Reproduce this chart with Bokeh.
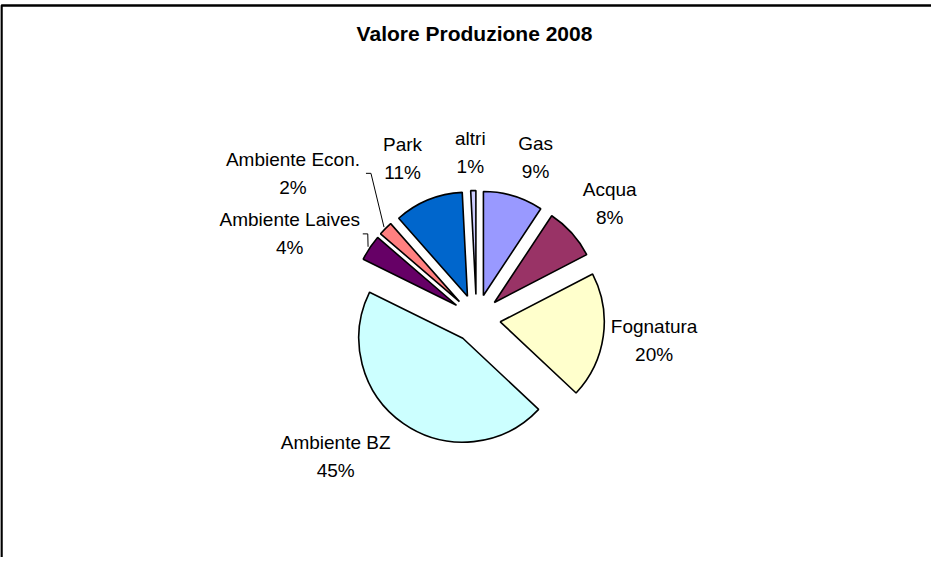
import math
from bokeh.plotting import figure
from bokeh.models import Range1d, ColumnDataSource
from bokeh.embed import file_html
from bokeh.resources import INLINE
from bokeh.core.properties import value

# ---- data ----
categories = ["Gas", "Acqua", "Fognatura", "Ambiente BZ", "Ambiente Laives",
              "Ambiente Econ.", "Park", "altri"]
values = [9.3, 8.1, 19.6, 45.3, 4.0, 2.2, 10.7, 0.8]
colors = ["#9999FF", "#993366", "#FFFFCC", "#CCFFFF", "#660066",
          "#FF8080", "#0066CC", "#CCCCFF"]
title_text = "Valore Produzione 2008"

# ---- layout parameters ----
W, H = 931, 557
CX, CY = 476, 239          # pie centre (data = screen px, y up)
R = 104                    # radius
EXPLODE = 24               # explosion distance
label_radius = [171.5, 176, 179, 197, 205, 234, 176, 166]
label_shift_deg = [-3.4, -1.1, 0.7, -10.9, 9.1, 6.3, 2.7, 0.7]
leader = [False, False, False, False, True, True, False, False]
LINE_GAP = 14
FONT = "Liberation Sans"

total = sum(values)
starts, ends, mids = [], [], []
a = 90.0
for v in values:
    span = v / total * 360.0
    starts.append(a)
    ends.append(a - span)
    mids.append(a - span / 2)
    a -= span

wx = [CX + EXPLODE * math.cos(math.radians(m)) for m in mids]
wy = [CY + EXPLODE * math.sin(math.radians(m)) for m in mids]

src = ColumnDataSource(dict(
    x=wx, y=wy,
    start=[math.radians(e) for e in ends],
    end=[math.radians(s) for s in starts],
    color=colors,
))

p = figure(width=W, height=H, x_range=Range1d(0, W), y_range=Range1d(0, H),
           x_axis_type=None, y_axis_type=None, toolbar_location=None,
           output_backend="svg", min_border=0)
p.grid.visible = False
p.outline_line_color = None
p.background_fill_color = "white"

# frame border (left + top)
p.line(x=[1, 1, W + 10], y=[-20, 552, 552], line_color="black", line_width=2.5)

# title
p.text(x=[474], y=[524], text=[title_text], text_align="center",
       text_baseline="middle", text_font=value(FONT), text_font_size="21px",
       text_font_style="bold", text_color="black")

# wedges
p.wedge(x="x", y="y", radius=R, start_angle="start", end_angle="end",
        direction="anticlock", fill_color="color", line_color="black",
        line_width=1.6, source=src)

# labels
lx, ly, names, pcts = [], [], [], []
for i, cat in enumerate(categories):
    ang = math.radians(mids[i] + label_shift_deg[i])
    x = CX + label_radius[i] * math.cos(ang)
    y = CY + label_radius[i] * math.sin(ang)
    lx.append(x)
    ly.append(y)
    names.append(cat)
    pcts.append("%d%%" % round(values[i] / total * 100))

p.text(x=lx, y=[y + LINE_GAP for y in ly], text=names, text_align="center",
       text_baseline="middle", text_font=value(FONT), text_font_size="19px",
       text_color="black")
p.text(x=lx, y=[y - LINE_GAP for y in ly], text=pcts, text_align="center",
       text_baseline="middle", text_font=value(FONT), text_font_size="19px",
       text_color="black")

# leader lines
for i in range(len(categories)):
    if not leader[i]:
        continue
    m = math.radians(mids[i])
    ex = wx[i] + (R + 2) * math.cos(m)
    ey = wy[i] + (R + 2) * math.sin(m)
    sx = lx[i] + 73
    p.line(x=[sx, sx + 5, ex], y=[ly[i], ly[i], ey], line_color="black",
           line_width=1)

open("out.html", "w").write(file_html(p, INLINE))
